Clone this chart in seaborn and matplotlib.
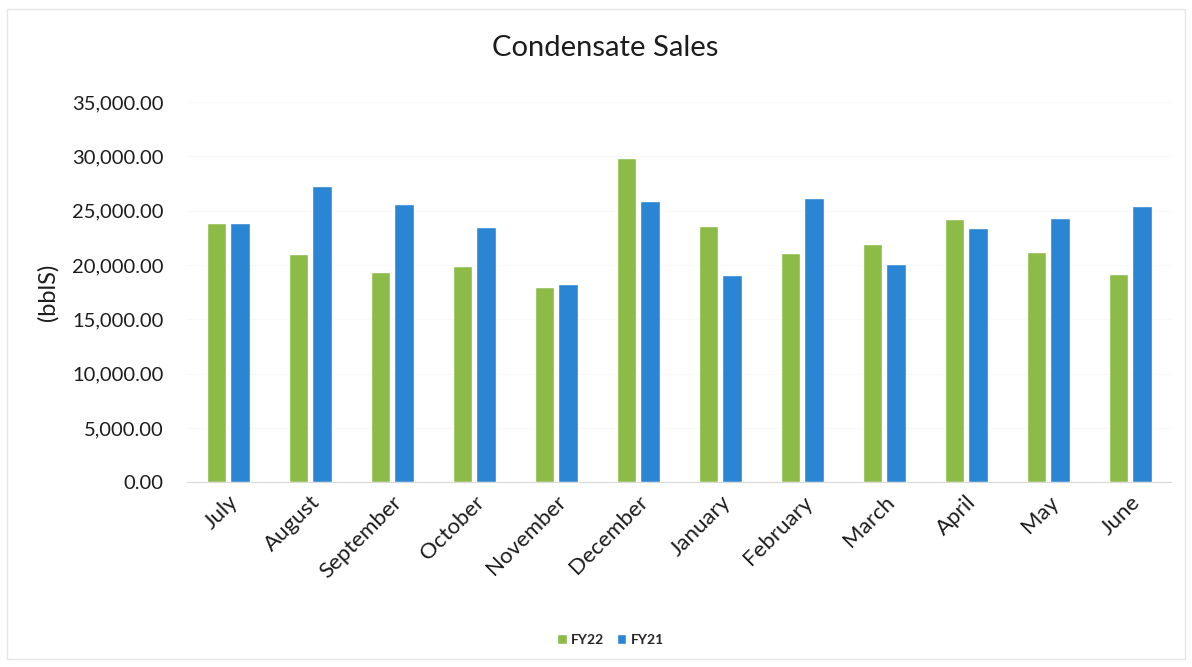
import pandas as pd
import numpy as np
import seaborn as sns
import matplotlib.pyplot as plt
from matplotlib.ticker import FuncFormatter
from matplotlib.patches import Rectangle

# datos
months = ['July', 'August', 'September', 'October', 'November', 'December',
          'January', 'February', 'March', 'April', 'May', 'June']
fy22 = [23830, 21000, 19320, 19900, 17930, 29820,
        23610, 21070, 21890, 24200, 21160, 19160]
fy21 = [23830, 27290, 25600, 23520, 18240, 25880,
        19070, 26190, 20050, 23400, 24320, 25450]
series = ['FY22', 'FY21']
colors = ['#8DBB48', '#2A85D5']

df = pd.DataFrame({'month': months * 2,
                   'sales': fy22 + fy21,
                   'serie': ['FY22'] * len(months) + ['FY21'] * len(months)})

sns.set_style('white')
plt.rcParams['font.family'] = ['Lato', 'DejaVu Sans']
txt = '#1c1c1c'

fig = plt.figure(figsize=(11.92, 6.67), dpi=100)
ax = fig.add_axes([0.157, 0.277, 0.8255, 0.570])

sns.barplot(data=df, x='month', y='sales', hue='serie', hue_order=series,
            palette=colors, width=0.57, gap=0.17, saturation=1, ax=ax)

ax.set_ylim(0, 35000)
ax.set_yticks(np.arange(0, 35001, 5000))
ax.yaxis.set_major_formatter(FuncFormatter(lambda v, p: '{:,.2f}'.format(v)))
ax.tick_params(axis='y', labelsize=14.5, pad=17, length=0, colors=txt)
ax.tick_params(axis='x', labelsize=16, length=0, pad=7, colors=txt)
for lab in ax.get_xticklabels():
    lab.set_rotation(45)
    lab.set_ha('right')
    lab.set_rotation_mode('anchor')

ax.grid(axis='y', color='#f8f8f8', linewidth=0.8)
ax.set_axisbelow(True)
for s in ['top', 'right', 'left']:
    ax.spines[s].set_visible(False)
ax.spines['bottom'].set_color('#d9d9d9')
ax.set_xlabel('')
ax.set_ylabel('(bblS)', fontsize=17, labelpad=10, color=txt)

fig.suptitle('Condensate Sales', x=0.508, y=0.948, fontsize=21, color=txt)

handles, labels = ax.get_legend_handles_labels()
ax.legend_.remove()
fig.legend(handles, labels, loc='center', bbox_to_anchor=(0.512, 0.041),
           ncol=2, frameon=False, handlelength=0.7,
           handleheight=0.7, handletextpad=0.3, columnspacing=0.9,
           prop={'weight': 'bold', 'size': 10})

# borde tenue del grafico
fig.patches.append(Rectangle((0.006, 0.012), 0.988, 0.975, transform=fig.transFigure,
                             fill=False, edgecolor='#e6e6e6', linewidth=1))

fig.savefig('out.png', dpi=100)
